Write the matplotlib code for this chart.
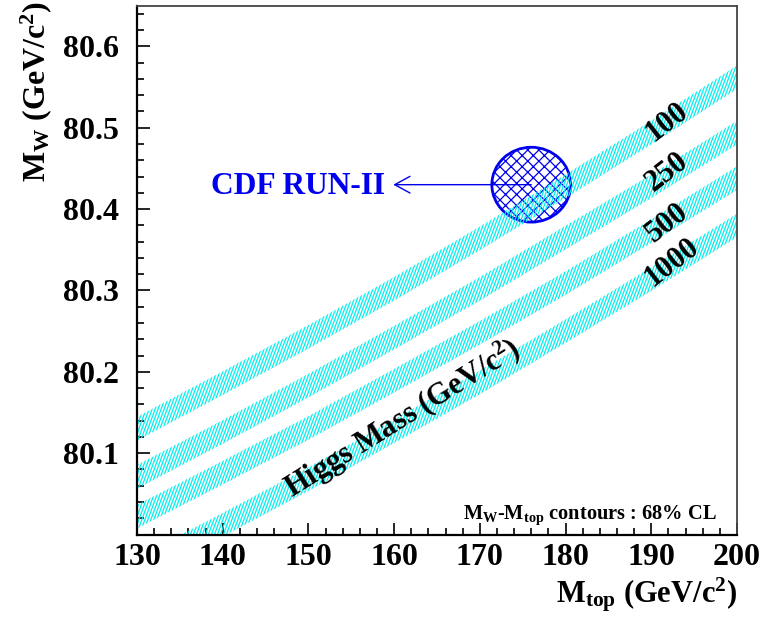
import numpy as np
import matplotlib
matplotlib.use("Agg")
import matplotlib.pyplot as plt
from matplotlib.patches import Ellipse, Polygon
from matplotlib.collections import LineCollection
from matplotlib.ticker import MultipleLocator

plt.rcParams['font.family'] = ['Liberation Serif', 'DejaVu Serif']
plt.rcParams['font.weight'] = 'bold'
plt.rcParams['mathtext.fontset'] = 'custom'
plt.rcParams['mathtext.rm'] = 'Liberation Serif:bold'
plt.rcParams['mathtext.it'] = 'Liberation Serif:bold'
plt.rcParams['mathtext.bf'] = 'Liberation Serif:bold'
plt.rcParams['hatch.linewidth'] = 0.9

# ---- data ----
mtop = [130, 140, 150, 160, 170, 180, 190, 200]
mw_h100 = [80.130, 80.186, 80.243, 80.302, 80.364, 80.428, 80.494, 80.562]
mw_h250 = [80.071, 80.126, 80.183, 80.242, 80.302, 80.365, 80.428, 80.494]
mw_h500 = [80.022, 80.076, 80.131, 80.189, 80.248, 80.309, 80.373, 80.438]
mw_h1000 = [79.957, 80.012, 80.068, 80.127, 80.187, 80.250, 80.314, 80.380]
band_halfwidth = 0.0145
higgs_labels = ['100', '250', '500', '1000']
label_mtop = [191.8, 191.8, 191.8, 192.4]
label_mw = [80.507, 80.445, 80.383, 80.334]

cdf_mtop = 176.0
cdf_mw = 80.430
cdf_err_mtop = 4.6
cdf_err_mw = 0.046
cdf_label = 'CDF RUN-II'

xticks = [130, 140, 150, 160, 170, 180, 190, 200]
yticks = [80.1, 80.2, 80.3, 80.4, 80.5, 80.6]

# ---- figure ----
fig = plt.figure(figsize=(7.63, 6.22), dpi=100)
ax = fig.add_axes([137/763, 87.5/622, 600/763, 528.8/622])
ax.set_xlim(130, 200)
ax.set_ylim(80.0, 80.65)

cyan = '#00eeee'
# hatch lines steep (~70 deg) in axes coords
hatch_dx = 3.0 / 600.0
shift = (529 / np.tan(np.radians(70))) / 600.0
starts = np.arange(-shift - 0.02, 1.02, hatch_dx)
segs = [[(s, 0.0), (s + shift, 1.0)] for s in starts]

for vals in [mw_h100, mw_h250, mw_h500, mw_h1000]:
    x = np.array(mtop, dtype=float)
    y = np.array(vals, dtype=float)
    verts = np.vstack([np.column_stack([x, y + band_halfwidth]),
                       np.column_stack([x[::-1], y[::-1] - band_halfwidth])])
    poly = Polygon(verts, closed=True, facecolor='none', edgecolor='none')
    ax.add_patch(poly)
    lc = LineCollection(segs, colors=cyan, linewidths=0.9, transform=ax.transAxes)
    ax.add_collection(lc)
    lc.set_clip_path(poly)

for lab, lx, ly in zip(higgs_labels, label_mtop, label_mw):
    ax.text(lx, ly, lab, fontsize=22, fontweight='bold', rotation=38,
            ha='center', va='center', rotation_mode='anchor', color='black')

ax.text(161.0, 80.142, 'Higgs Mass (GeV/c$^{2}$)', fontsize=22, fontweight='bold',
        rotation=32, ha='center', va='center', rotation_mode='anchor')

ell = Ellipse((cdf_mtop, cdf_mw), 2 * cdf_err_mtop, 2 * cdf_err_mw,
              facecolor='none', edgecolor='#0000ee', hatch='xxx', lw=2.0)
ax.add_patch(ell)

ax.annotate('', xy=(159.9, cdf_mw), xytext=(cdf_mtop, cdf_mw),
            arrowprops=dict(arrowstyle='->,head_length=0.55,head_width=0.3',
                            color='#0000ee', lw=1.0, shrinkA=0, shrinkB=0,
                            mutation_scale=20))
ax.text(158.9, 80.419, cdf_label, color='#0000ee', fontsize=22.7, fontweight='bold',
        ha='right', va='baseline')

ax.text(0.9667, 0.0293, 'M$_{W}$-M$_{top}$ contours : 68% CL', transform=ax.transAxes,
        fontsize=14.7, fontweight='bold', ha='right', va='baseline')

ax.set_xticks(xticks)
ax.set_yticks(yticks)
ax.set_xticklabels([str(t) for t in xticks])
ax.set_yticklabels(['%.1f' % t for t in yticks])
ax.xaxis.set_minor_locator(MultipleLocator(2))
ax.yaxis.set_minor_locator(MultipleLocator(0.02))
ax.tick_params(which='both', direction='in', top=False, right=False, width=1.2)
ax.tick_params(which='major', length=9)
ax.tick_params(which='minor', length=5)
ax.tick_params(axis='x', which='major', labelsize=23, pad=6)
ax.tick_params(axis='y', which='major', labelsize=23, pad=13)
for lab in ax.get_xticklabels() + ax.get_yticklabels():
    lab.set_fontweight('bold')

for s in ['left', 'bottom']:
    ax.spines[s].set_linewidth(1.6)
    ax.spines[s].set_color('black')
for s in ['top', 'right']:
    ax.spines[s].set_linewidth(1.3)
    ax.spines[s].set_color('#444444')

fig.text(36/763, 1 - 1/622, 'M$_{W}$ (GeV/c$^{2}$)', rotation=90, fontsize=23,
         fontweight='bold', ha='center', va='top')
fig.text(737/763, (622 - 603)/622, 'M$_{top}$ (GeV/c$^{2}$)', fontsize=22,
         fontweight='bold', ha='right', va='baseline')

fig.savefig('out.png', dpi=100)
